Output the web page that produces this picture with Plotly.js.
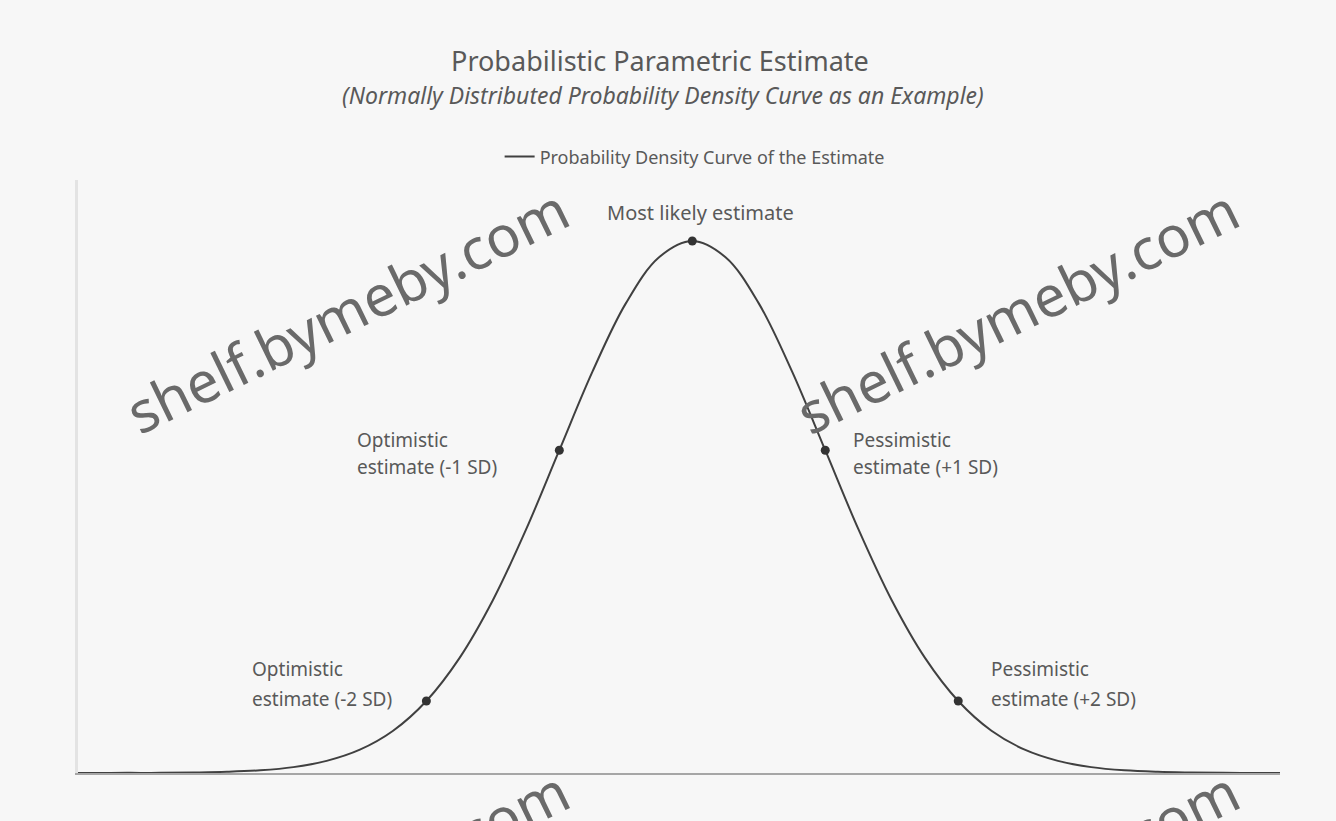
<!DOCTYPE html>
<html>
<head>
<meta charset="utf-8">
<script src="https://cdn.plot.ly/plotly-3.0.1.min.js"></script>
<style>html,body{margin:0;padding:0;background:#f7f7f7;}#chart{width:1336px;height:821px;}</style>
</head>
<body>
<div id="chart"></div>
<script>
// Estimate value in standard deviations from the mean
var curveX = [-4.75,-4.5,-4.25,-4.0,-3.75,-3.5,-3.25,-3.0,-2.75,-2.5,-2.25,-2.0,-1.75,-1.5,-1.25,-1.0,-0.75,-0.5,-0.25,0,0.25,0.5,0.75,1.0,1.25,1.5,1.75,2.0,2.25,2.5,2.75,3.0,3.25,3.5,3.75,4.0,4.25,4.5];
// Probability density
var curveY = [0.0000,0.0000,0.0001,0.0001,0.0004,0.0009,0.0020,0.0044,0.0091,0.0175,0.0317,0.0540,0.0863,0.1295,0.1826,0.2420,0.3011,0.3521,0.3867,0.3989,0.3867,0.3521,0.3011,0.2420,0.1826,0.1295,0.0863,0.0540,0.0317,0.0175,0.0091,0.0044,0.0020,0.0009,0.0004,0.0001,0.0000,0.0000];
// Highlighted estimates
var pointX = [-2, -1, 0, 1, 2];
var pointY = [0.0540, 0.2420, 0.3989, 0.2420, 0.0540];
var labelLine1 = ["Optimistic", "Optimistic", "Most likely estimate", "Pessimistic", "Pessimistic"];
var labelLine2 = ["estimate (-2 SD)", "estimate (-1 SD)", "", "estimate (+1 SD)", "estimate (+2 SD)"];
var labelSide = ["left", "left", "top", "right", "right"];

var titleText = "Probabilistic Parametric Estimate";
var subtitleText = "(Normally Distributed Probability Density Curve as an Example)";
var legendName = "Probability Density Curve of the Estimate";
var watermark = "shelf.bymeby.com";

var font = "Noto Sans, Liberation Sans, sans-serif";
var traces = [
  {x: curveX, y: curveY, type: "scatter", mode: "lines", name: legendName,
   line: {color: "#404040", width: 2, shape: "spline", smoothing: 1.0}, hoverinfo: "skip"},
  {x: pointX, y: pointY, type: "scatter", mode: "markers", showlegend: false,
   marker: {color: "#333333", size: 9}}
];

var annotations = [];
for (var i = 0; i < pointX.length; i++) {
  var side = labelSide[i];
  var base = {x: pointX[i], y: pointY[i], xref: "x", yref: "y", showarrow: false,
              font: {family: font, size: 19, color: "#595959"}, align: "left"};
  if (side === "top") {
    annotations.push(Object.assign({}, base, {text: labelLine1[i], xanchor: "center", yanchor: "middle", xshift: 8, yshift: 28, font: {family: font, size: 20, color: "#595959"}}));
  } else {
    var big = Math.abs(pointX[i]) === 2;
    var xs = side === "left" ? (big ? -22 : -50) : (big ? 31 : 26);
    var xa = side === "left" ? "right" : "left";
    var y1 = big ? 32 : 10, y2 = big ? 2 : -17;
    annotations.push(Object.assign({}, base, {text: labelLine1[i], xanchor: xa, yanchor: "middle", xshift: xs, yshift: y1,
      width: 150, align: "left"}));
    annotations.push(Object.assign({}, base, {text: labelLine2[i], xanchor: xa, yanchor: "middle", xshift: xs, yshift: y2,
      width: 150, align: "left"}));
  }
}
annotations.push({text: "<i>" + subtitleText + "</i>", xref: "paper", yref: "paper", x: 0.487, y: 1.143,
  xanchor: "center", yanchor: "middle", showarrow: false, font: {family: font, size: 23, color: "#595959"}});
// watermarks
var wm = [[0.224, 0.78], [0.782, 0.78], [0.224, -0.2], [0.782, -0.2]];
for (var k = 0; k < wm.length; k++) {
  annotations.push({text: watermark, xref: "paper", yref: "paper", x: wm[k][0], y: wm[k][1],
    xanchor: "center", yanchor: "middle", showarrow: false, textangle: -26,
    font: {family: font, size: 57, color: "#6a6a6a"}});
}

var layout = {
  width: 1336, height: 821,
  paper_bgcolor: "#f7f7f7", plot_bgcolor: "#f7f7f7",
  margin: {l: 78, r: 56, t: 180, b: 48},
  title: {text: titleText, x: 0.494, xref: "container", y: 0.925, yref: "container", yanchor: "middle",
          font: {family: font, size: 27, color: "#595959"}},
  showlegend: true,
  legend: {orientation: "h", x: 0.513, xanchor: "center", y: 1.039, yanchor: "middle",
           font: {family: font, size: 18, color: "#595959"}, bgcolor: "rgba(0,0,0,0)"},
  xaxis: {range: [-4.62, 4.42], showgrid: false, zeroline: false, showticklabels: false, ticks: "",
          showline: true, linecolor: "#a6a6a6", linewidth: 2},
  yaxis: {range: [0, 0.4446], showgrid: false, zeroline: false, showticklabels: false, ticks: "",
          showline: true, linecolor: "#e3e3e3", linewidth: 3},
  annotations: annotations
};
Plotly.newPlot("chart", traces, layout, {displayModeBar: false, staticPlot: true});
</script>
</body>
</html>
